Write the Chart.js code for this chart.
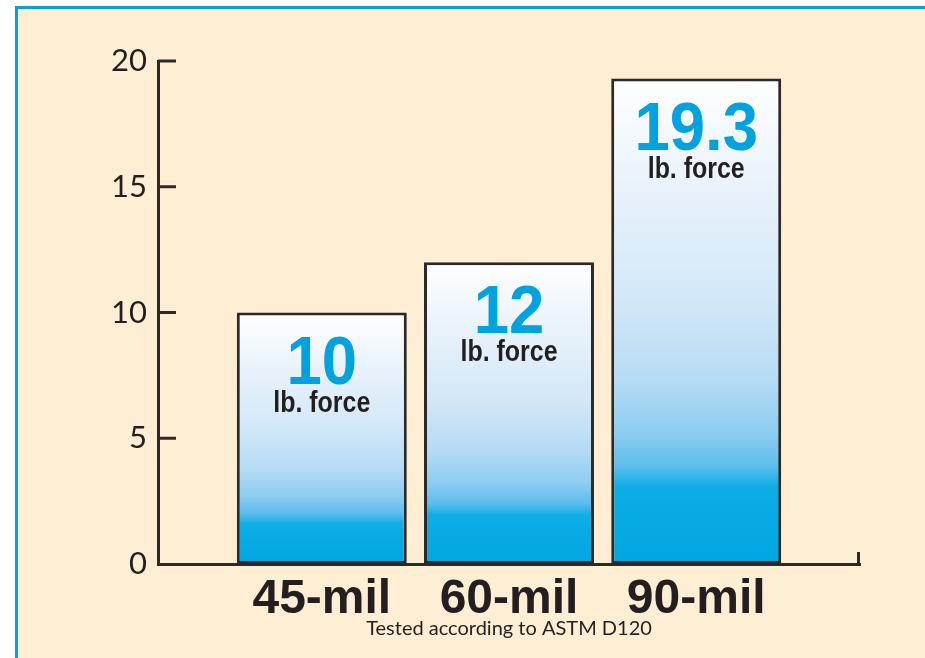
<!DOCTYPE html>
<html>
<head>
<meta charset="utf-8">
<script src="https://cdn.jsdelivr.net/npm/chart.js@4"></script>
<style>
  body { margin: 0; background: #fff; width: 925px; height: 658px; overflow: hidden; position: relative; }
  #frame { position: absolute; left: 15px; top: 6px; width: 1000px; height: 700px;
    border-top: 3px solid #06a2dc; border-left: 3px solid #06a2dc; background: #feeed3; }
  #chart { position: absolute; left: 0; top: 0; }
</style>
</head>
<body>
<div id="frame"></div>
<canvas id="chart" width="925" height="658"></canvas>
<script>
const categories = ['45-mil', '60-mil', '90-mil'];
const forces = [10, 12, 19.3];
const valueLabels = ['10', '12', '19.3'];
const yTicks = [0, 5, 10, 15, 20];
const unitLabel = 'lb. force';
const footnote = 'Tested according to ASTM D120';

const ink = '#231f20';
const axisInk = '#2b2a2a';
const blue = '#00a3e0';

// bar fill: white at the top fading to cyan near the base, per bar
const barFill = (c) => {
  const chart = c.chart;
  if (!chart.chartArea || !c.parsed) return '#9fd5f3';
  const y = chart.scales.y;
  const top = y.getPixelForValue(c.parsed.y), base = y.getPixelForValue(0);
  const g = chart.ctx.createLinearGradient(0, top, 0, base);
  g.addColorStop(0, '#ffffff');
  g.addColorStop(0.22, '#e9f2fb');
  g.addColorStop(0.45, '#d3e8f8');
  g.addColorStop(0.62, '#b6dbf5');
  g.addColorStop(0.73, '#8dcdf1');
  g.addColorStop(0.8, '#5bbdec');
  g.addColorStop(0.84, '#0eade6');
  g.addColorStop(1, '#00a6e2');
  return g;
};

const axisMarks = {
  id: 'axisMarks',
  beforeDatasetsDraw(chart) {
    const { ctx, chartArea: a, scales: { y } } = chart;
    ctx.save();
    ctx.strokeStyle = axisInk; ctx.lineWidth = 3; ctx.lineCap = 'butt';
    ctx.beginPath();
    yTicks.filter(v => v > 0).forEach(v => {
      const py = y.getPixelForValue(v);
      ctx.moveTo(a.left, py); ctx.lineTo(a.left + 18, py);
    });
    ctx.moveTo(a.right - 1.5, a.bottom + 1.5); ctx.lineTo(a.right - 1.5, a.bottom - 12);
    ctx.stroke();
    ctx.restore();
  }
};

// squeeze text horizontally to mimic the condensed face of the original
const condensed = (ctx, text, x, y, sx) => {
  ctx.save();
  ctx.translate(x, y); ctx.scale(sx, 1);
  ctx.fillText(text, 0, 0);
  ctx.restore();
};

const barText = {
  id: 'barText',
  afterDatasetsDraw(chart) {
    const { ctx } = chart;
    const meta = chart.getDatasetMeta(0);
    ctx.save();
    ctx.textAlign = 'center'; ctx.textBaseline = 'alphabetic';
    meta.data.forEach((bar, i) => {
      ctx.fillStyle = blue;
      ctx.font = 'bold 69px "Liberation Sans", Arial, sans-serif';
      condensed(ctx, valueLabels[i], bar.x, bar.y + 71, 0.92);
      ctx.fillStyle = ink;
      ctx.font = 'bold 29px "Liberation Sans", Arial, sans-serif';
      condensed(ctx, unitLabel, bar.x, bar.y + 99, 0.86);
    });
    ctx.restore();
  }
};

new Chart(document.getElementById('chart'), {
  type: 'bar',
  data: {
    datasets: [{
      data: forces.map((v, i) => ({ x: i, y: v })),
      backgroundColor: barFill,
      borderColor: axisInk,
      borderWidth: 3,
      borderSkipped: false,
      barPercentage: 0.908,
      categoryPercentage: 1
    }]
  },
  options: {
    responsive: false,
    animation: false,
    layout: { padding: { left: 0, right: 65, top: 61, bottom: 0 } },
    plugins: { legend: { display: false }, tooltip: { enabled: false } },
    scales: {
      x: {
        type: 'linear',
        offset: false,
        min: -0.875,
        max: categories.length - 0.125,
        grid: { display: false, drawTicks: false, offset: false },
        border: { display: true, color: axisInk, width: 3 },
        afterBuildTicks: (s) => { s.ticks = categories.map((_, i) => ({ value: i })); },
        afterFit: (s) => { s.height = 94; },
        ticks: {
          padding: 7,
          color: ink,
          font: { family: '"Liberation Sans", Arial, sans-serif', size: 48, weight: 'bold' },
          callback: (v) => categories[v] ?? ''
        },
        title: {
          display: true,
          text: footnote,
          color: ink,
          padding: { top: 0, bottom: 17 },
          font: { family: 'Lato, "DejaVu Sans", sans-serif', size: 20 }
        }
      },
      y: {
        min: 0,
        max: 20,
        grid: { display: false, drawTicks: false },
        border: { display: true, color: axisInk, width: 3 },
        afterBuildTicks: (s) => { s.ticks = yTicks.map(v => ({ value: v })); },
        afterFit: (s) => { s.width = 158; },
        ticks: {
          padding: 11,
          color: ink,
          font: { family: 'Lato, "DejaVu Sans", sans-serif', size: 31, weight: '400' }
        }
      }
    }
  },
  plugins: [axisMarks, barText]
});
</script>
</body>
</html>
